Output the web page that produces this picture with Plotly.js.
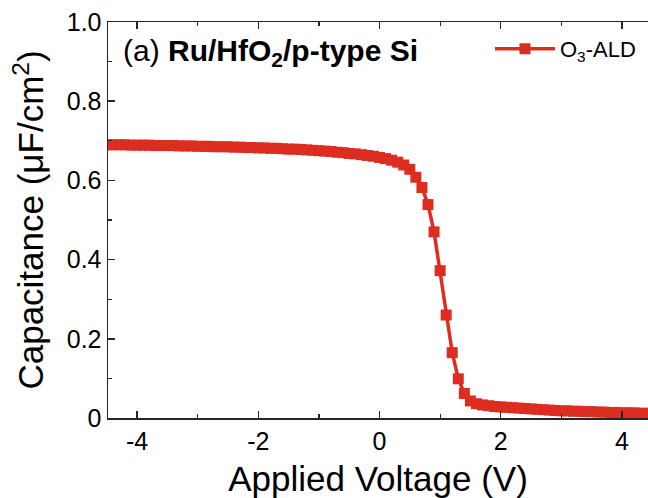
<!DOCTYPE html>
<html>
<head>
<meta charset="utf-8">
<script src="https://cdn.plot.ly/plotly-3.0.1.min.js"></script>
<style>html,body{margin:0;padding:0;background:#fff;}#chart{width:648px;height:498px;}</style>
</head>
<body>
<div id="chart"></div>
<script>
const voltage = [
 -4.5,-4.4,-4.3,-4.2,-4.1,-4.0,-3.9,-3.8,-3.7,-3.6,-3.5,-3.4,-3.3,-3.2,-3.1,-3.0,
 -2.9,-2.8,-2.7,-2.6,-2.5,-2.4,-2.3,-2.2,-2.1,-2.0,-1.9,-1.8,-1.7,-1.6,-1.5,-1.4,
 -1.3,-1.2,-1.1,-1.0,-0.9,-0.8,-0.7,-0.6,-0.5,-0.4,-0.3,-0.2,-0.1,0.0,
 0.1,0.2,0.3,0.4,0.5,0.6,0.7,0.8,0.9,1.0,1.1,1.2,1.3,1.4,1.5,1.6,1.7,1.8,1.9,2.0,
 2.1,2.2,2.3,2.4,2.5,2.6,2.7,2.8,2.9,3.0,3.1,3.2,3.3,3.4,3.5,3.6,3.7,3.8,3.9,4.0,
 4.1,4.2,4.3,4.4,4.5
];
const capO3ALD = [
 0.690,0.690,0.690,0.690,0.689,0.689,0.689,0.689,0.688,0.688,0.688,0.688,0.687,0.687,0.687,0.686,
 0.686,0.686,0.685,0.685,0.685,0.684,0.684,0.683,0.683,0.682,0.682,0.681,0.681,0.680,0.679,0.679,
 0.678,0.677,0.676,0.675,0.674,0.673,0.671,0.670,0.668,0.667,0.665,0.663,0.661,0.658,
 0.655,0.651,0.646,0.639,0.628,0.608,0.582,0.539,0.470,0.372,0.260,0.165,0.099,0.062,0.043,0.036,0.033,0.031,0.029,0.028,
 0.027,0.026,0.025,0.024,0.023,0.022,0.021,0.020,0.019,0.018,0.018,0.017,0.017,0.016,0.016,0.015,0.015,0.014,0.014,0.013,
 0.013,0.013,0.012,0.012,0.012
];
const xTickVals = [-4,-2,0,2,4];
const xTickText = ['-4','-2','0','2','4'];
const yTickVals = [0,0.2,0.4,0.6,0.8,1.0];
const yTickText = ['0','0.2','0.4','0.6','0.8','1.0'];
const seriesName = 'O<sub>3</sub>-ALD';
const panelLabel = '(a) <b>Ru/HfO<sub>2</sub>/p-type Si</b>';

const red = 'rgb(221,45,32)';
const axisColor = '#262626';
const fontFam = 'Arial, "Liberation Sans", Helvetica, sans-serif';

const trace = {
  x: voltage, y: capO3ALD, name: seriesName,
  type: 'scatter', mode: 'lines+markers',
  line: {color: red, width: 3.5},
  marker: {symbol: 'square', size: 11, color: red, line: {width: 0}}
};

const layout = {
  width: 648, height: 498,
  margin: {l: 108, r: 0, t: 22, b: 80},
  paper_bgcolor: '#fff', plot_bgcolor: '#fff',
  font: {family: fontFam, color: '#000'},
  showlegend: true,
  legend: {x: 0.987, xanchor: 'right', y: 0.985, yanchor: 'top', bgcolor: 'rgba(0,0,0,0)',
           itemwidth: 60, font: {size: 22, family: fontFam, color: '#000'}},
  xaxis: {
    range: [-4.48, 4.43], showgrid: false, zeroline: false,
    showline: true, linecolor: axisColor, linewidth: 1.5, mirror: 'ticks',
    ticks: 'inside', ticklen: 7, tickwidth: 1.5, tickcolor: axisColor,
    tickmode: 'array', tickvals: xTickVals, ticktext: xTickText,
    tickfont: {size: 25, family: fontFam, color: '#000'},
    minor: {dtick: 1, ticks: 'inside', ticklen: 4, tickwidth: 1.2, tickcolor: axisColor, showgrid: false},
    title: {text: 'Applied Voltage (V)', font: {size: 35, family: fontFam, color: '#000'}, standoff: 13}
  },
  yaxis: {
    range: [0, 1.0], showgrid: false, zeroline: false,
    showline: true, linecolor: axisColor, linewidth: 1.5, mirror: false,
    ticks: 'inside', ticklen: 7, tickwidth: 1.5, tickcolor: axisColor,
    tickmode: 'array', tickvals: yTickVals, ticktext: yTickText,
    tickfont: {size: 25, family: fontFam, color: '#000'},
    minor: {dtick: 0.1, ticks: 'inside', ticklen: 4, tickwidth: 1.2, tickcolor: axisColor, showgrid: false},
    title: {text: 'Capacitance (μF/cm<sup>2</sup>)', font: {size: 35, family: fontFam, color: '#000'}, standoff: 12}
  },
  annotations: [{
    xref: 'paper', yref: 'paper', x: 0.024, y: 0.975, xanchor: 'left', yanchor: 'top',
    text: panelLabel, showarrow: false, font: {size: 30, family: fontFam, color: '#000'}
  }]
};

Plotly.newPlot('chart', [trace], layout, {displayModeBar: false, staticPlot: true});
</script>
</body>
</html>
